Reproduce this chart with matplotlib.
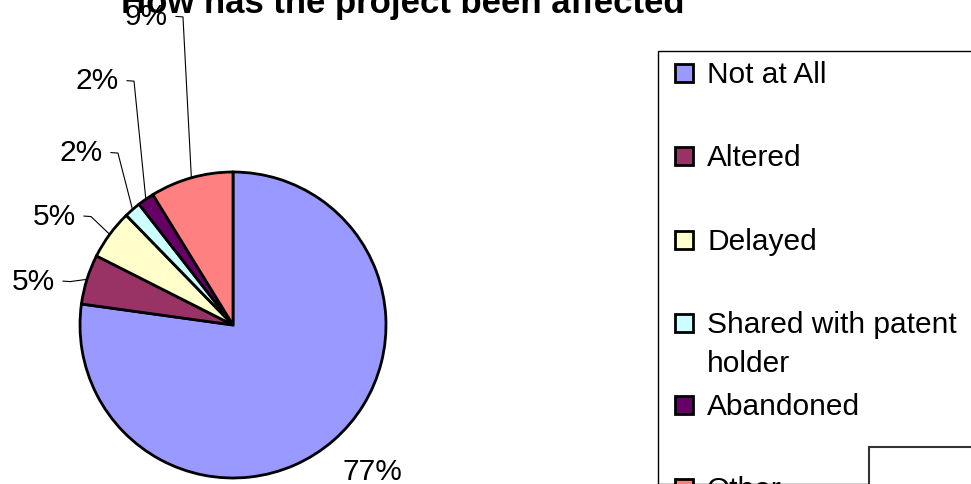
import matplotlib
matplotlib.use("Agg")
import matplotlib.pyplot as plt
from matplotlib.patches import Rectangle
import numpy as np

plt.rcParams['font.family'] = ['Liberation Sans', 'DejaVu Sans']

# ---- data ----
categories = ["Not at All", "Altered", "Delayed", "Shared with patent holder", "Abandoned", "Other"]
counts = [44, 3, 3, 1, 1, 5]
colors = ["#9999FF", "#993366", "#FFFFCC", "#CCFFFF", "#660066", "#FF8080"]
legend_labels = ["Not at All", "Altered", "Delayed", "Shared with patent\nholder", "Abandoned", "Other"]
title = "How has the project been affected"

# label anchor positions (pie data units, radius = 1): right edge of text, centre of digits
label_pos = [(1.11, -0.945), (-1.163, 0.30), (-1.026, 0.725), (-0.85, 1.14), (-0.745, 1.61), (-0.425, 2.03)]

W, H = 971, 484
fig = plt.figure(figsize=(W / 100, H / 100), dpi=100)

cx, cy, r = 233, 325, 153
ax = fig.add_axes([(cx - r) / W, (H - cy - r) / H, 2 * r / W, 2 * r / H])
ax.axis('off')

wedges, _ = ax.pie(counts, colors=colors, startangle=90, counterclock=False,
                   radius=1, wedgeprops=dict(edgecolor='black', linewidth=2.0))
ax.set_xlim(-1, 1)
ax.set_ylim(-1, 1)
ax.set_aspect('equal')
for w in wedges:
    w.set_clip_on(False)

px = 1.0 / r                 # one pixel in pie data units
base_off = 10.5 * px         # from digit centre down to baseline
total = float(sum(counts))
for i, (w, c) in enumerate(zip(wedges, counts)):
    pct = f"{round(100 * c / total):.0f}%"
    lx, ly = label_pos[i]
    ax.text(lx, ly - base_off, pct, ha='right', va='baseline', fontsize=21.5, clip_on=False)
    if i == 0:
        continue
    mid = np.deg2rad((w.theta1 + w.theta2) / 2)
    ex, ey = np.cos(mid), np.sin(mid)
    xs = [lx + 8 * px, lx + 15 * px, ex]
    ys = [ly - 2 * px, ly - 2.5 * px, ey]
    ax.plot(xs, ys, color='black', lw=0.8, clip_on=False)

# title (clipped at top like the original)
fig.text(403 / W, 1 - 13 / H, title, ha='center', va='baseline', fontsize=25,
         fontweight='bold')

# legend box
lb_left, lb_top = 658, 51
fig.patches.append(Rectangle((lb_left / W, 0), 1 - lb_left / W + 0.01, 1 - lb_top / H,
                             transform=fig.transFigure, facecolor='white',
                             edgecolor='black', lw=1.0, zorder=1))
entry_y = [73, 156, 240, 323, 405, 488]
msize = 18
for lab, col, yy in zip(legend_labels, colors, entry_y):
    fig.patches.append(Rectangle((675 / W, (H - yy - msize / 2) / H), msize / W, msize / H,
                                 transform=fig.transFigure, facecolor=col,
                                 edgecolor='black', lw=2.0, zorder=2))
    fig.text(707 / W, 1 - (yy + 10) / H, lab.split("\n")[0], ha='left', va='baseline',
             fontsize=21.5, zorder=3)
    if "\n" in lab:
        fig.text(707 / W, 1 - (yy + 49) / H, lab.split("\n")[1], ha='left', va='baseline',
                 fontsize=21.5, zorder=3)

# small box at bottom right
fig.patches.append(Rectangle((869 / W, -0.05), 0.2, 1 - 447 / H + 0.05,
                             transform=fig.transFigure, facecolor='white',
                             edgecolor='#333333', lw=1.5, zorder=4))

fig.savefig("out.png", dpi=100)
